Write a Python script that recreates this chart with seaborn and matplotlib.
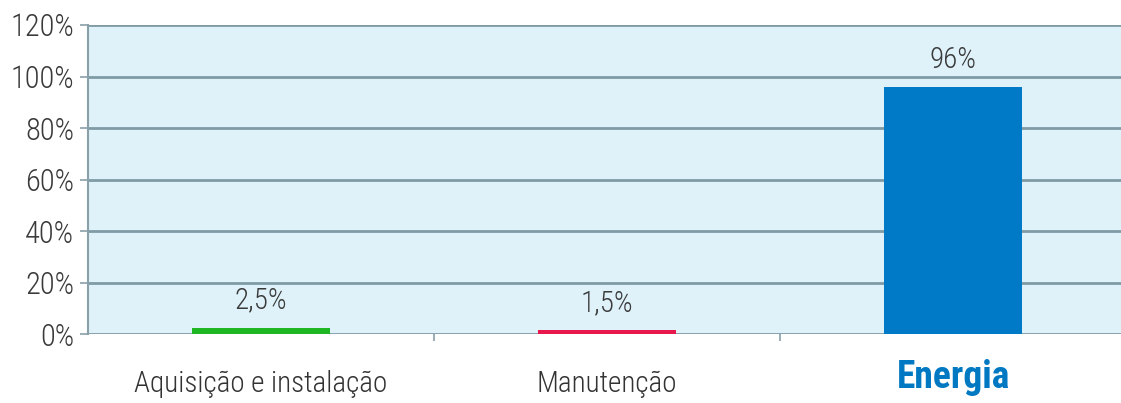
import matplotlib
matplotlib.use("Agg")
import matplotlib.pyplot as plt
import matplotlib.transforms as mtransforms
import seaborn as sns
import pandas as pd
from matplotlib.ticker import FixedLocator

# Custos ao longo da vida útil de um motor elétrico
categorias = ["Aquisição e instalação", "Manutenção", "Energia"]
valores = [2.5, 1.5, 96.0]
rotulos = ["2,5%", "1,5%", "96%"]
cores = ["#1fb624", "#e8174c", "#0079c6"]
yticks = [0, 20, 40, 60, 80, 100, 120]
ytick_labels = ["0%", "20%", "40%", "60%", "80%", "100%", "120%"]

df = pd.DataFrame({"categoria": categorias, "valor": valores})

sns.set_theme(style="white")
plt.rcParams["font.family"] = ["Roboto Condensed", "Liberation Sans Narrow", "DejaVu Sans"]

fig = plt.figure(figsize=(11.21, 4.03), dpi=100)
ax = fig.add_axes([0.0785, 0.171, 0.9215, 0.767])
ax.set_facecolor("#dff2fa")

sns.barplot(data=df, x="categoria", y="valor", hue="categoria",
            palette=cores, width=0.4, legend=False, ax=ax, saturation=1,
            linewidth=0)

ax.set_ylim(0, 120)
ax.set_xlim(-0.5, 2.485)
ax.set_yticks(yticks)
ax.set_yticklabels(ytick_labels)
ax.yaxis.grid(True, color="#7f9ba6", linewidth=2.0)
ax.set_axisbelow(True)

for s in ["top", "right", "bottom"]:
    ax.spines[s].set_visible(False)
ax.spines["left"].set_color("#8aa0a8")
ax.spines["left"].set_linewidth(1.5)

ax.tick_params(axis="y", length=6, color="#8aa0a8", width=1.2,
               labelsize=22, labelcolor="#3a3a3a", pad=4, left=True)
for lbl in ax.get_yticklabels():
    lbl.set_fontweight("light")
ax.xaxis.set_minor_locator(FixedLocator([0.5, 1.5]))
ax.tick_params(axis="x", which="minor", length=5, color="#8aa0a8",
               width=1.2, bottom=True)
ax.tick_params(axis="x", which="major", length=0, pad=26,
               labelsize=21, labelcolor="#333333")
ax.set_xlabel("")
ax.set_ylabel("")

xlabels = ax.get_xticklabels()
for lbl in xlabels[:2]:
    lbl.set_fontweight("light")
destaque = xlabels[2]
destaque.set_color("#0078c2")
destaque.set_fontweight("bold")
destaque.set_fontsize(27)
destaque.set_transform(destaque.get_transform() +
                       mtransforms.ScaledTranslation(0, 8 / 72, fig.dpi_scale_trans))

for i, (v, t) in enumerate(zip(valores, rotulos)):
    ax.text(i, v + 5.0, t, ha="center", va="bottom",
            fontsize=21, fontweight="light", color="#3a3a3a")

fig.savefig("out.png", dpi=100, facecolor="white")
